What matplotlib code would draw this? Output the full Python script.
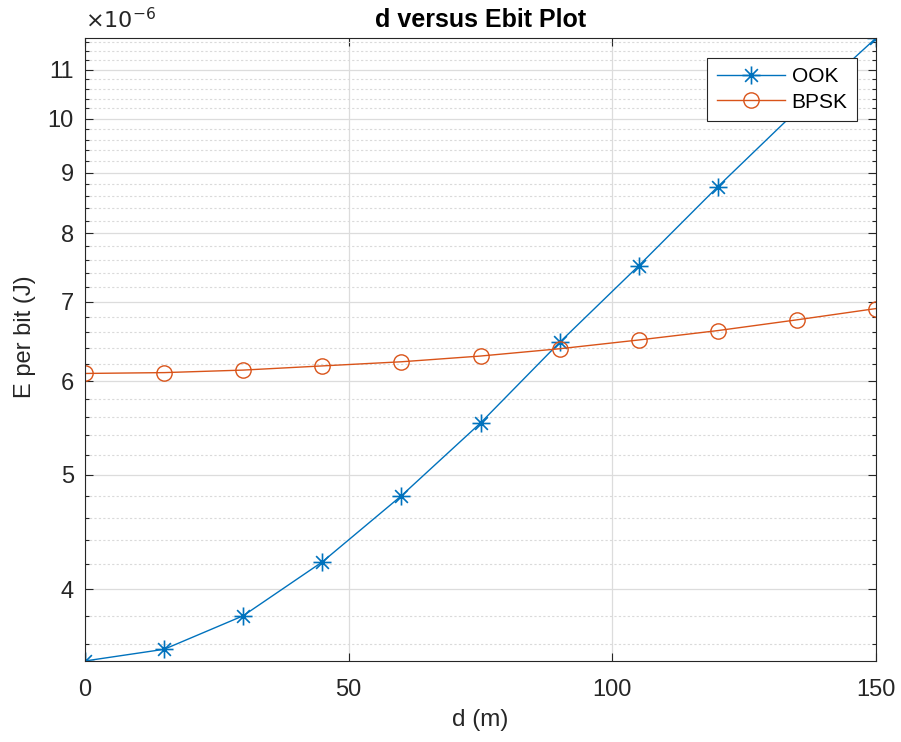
import numpy as np
import matplotlib.pyplot as plt
from matplotlib.path import Path
from matplotlib.ticker import FixedLocator, FuncFormatter, NullFormatter

plt.rcParams['font.family'] = ['Liberation Sans', 'DejaVu Sans']

d = [0, 15, 30, 45, 60, 75, 90, 105, 120, 135, 150]
ook = [3.48, 3.56, 3.80, 4.22, 4.80, 5.53, 6.47, 7.51, 8.76, 10.16, 11.70]
bpsk = [6.09, 6.10, 6.13, 6.18, 6.23, 6.30, 6.39, 6.50, 6.62, 6.76, 6.91]
scale = 1e-6

ook_e = np.array(ook) * scale
bpsk_e = np.array(bpsk) * scale

# matlab style asterisk: + and x together
r = 0.7071
star = Path([(-1, 0), (1, 0), (0, -1), (0, 1), (-r, -r), (r, r), (-r, r), (r, -r)],
            [Path.MOVETO, Path.LINETO] * 4)

fig = plt.figure(figsize=(9.01, 7.42), dpi=100)
ax = fig.add_axes([0.0943, 0.1092, 0.878, 0.8396])

ax.plot(d, ook_e, color='#0072BD', marker=star, markersize=13, linewidth=1.0,
        markerfacecolor='none', markeredgewidth=1.2, label='OOK')
ax.plot(d, bpsk_e, color='#D95319', marker='o', markersize=11, linewidth=1.0,
        markerfacecolor='none', markeredgewidth=1.0, label='BPSK')

ax.set_yscale('log')
ax.set_xlim(0, 150)
ax.set_ylim(ook_e[0], ook_e[-1])

major = np.arange(4, 12) * scale
minor = np.array([v for v in np.arange(3.4, 11.81, 0.2) if abs(v - round(v)) > 1e-6]) * scale
ax.yaxis.set_major_locator(FixedLocator(major))
ax.yaxis.set_minor_locator(FixedLocator(minor))
ax.yaxis.set_major_formatter(FuncFormatter(lambda v, p: f"{v / scale:.0f}"))
ax.yaxis.set_minor_formatter(NullFormatter())
ax.set_xticks([0, 50, 100, 150])

ax.grid(True, which='major', color='#dcdcdc', linewidth=0.9)
ax.grid(True, which='minor', axis='y', color='#dadada', linestyle=(0, (2, 2)), linewidth=0.8)
ax.set_axisbelow(True)

ax.tick_params(which='both', direction='in', top=True, right=True, labelsize=17, colors='#262626')
ax.tick_params(which='major', length=6, width=0.8)
ax.tick_params(which='minor', length=3, width=0.8)
ax.tick_params(axis='x', pad=13)
ax.tick_params(axis='y', pad=8)
for s in ax.spines.values():
    s.set_color('#262626')
    s.set_linewidth(0.8)

ax.text(0.0, 1.008, r'$\times10^{-6}$', transform=ax.transAxes, fontsize=16,
        color='#262626', ha='left', va='bottom')

ax.set_title('d versus Ebit Plot', fontsize=18, fontweight='bold', pad=8)
ax.set_xlabel('d (m)', fontsize=17.5, color='#262626', labelpad=6)
ax.set_ylabel('E per bit (J)', fontsize=17, color='#262626')
ax.yaxis.set_label_coords(-0.062, 0.52)

leg = ax.legend(loc='upper right', bbox_to_anchor=(0.976, 0.968), borderaxespad=0,
                fontsize=15, fancybox=False, edgecolor='#262626', framealpha=1,
                handlelength=3.3, handletextpad=0.3, borderpad=0.45, labelspacing=0.3)
leg.get_frame().set_linewidth(0.8)

fig.savefig('out.png', dpi=100)
